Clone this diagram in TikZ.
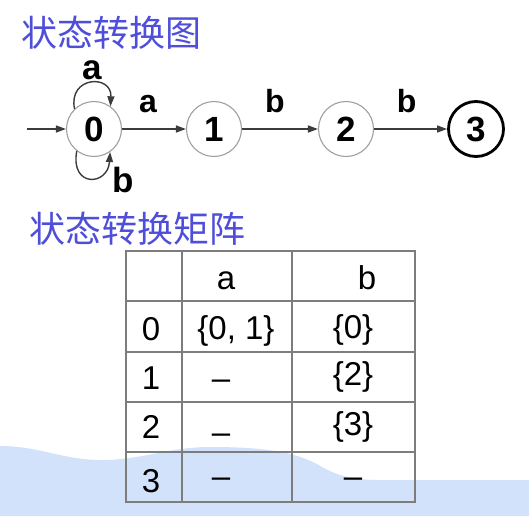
\documentclass[tikz,border=0pt]{standalone}
\usepackage{fontspec}
\setmainfont{Liberation Sans}
\newfontfamily\cjk{Noto Sans CJK SC}
\usetikzlibrary{arrows.meta}
\definecolor{titleblue}{RGB}{78,78,218}
\definecolor{wavecol}{RGB}{210,226,250}
\definecolor{circgray}{RGB}{160,160,160}
\definecolor{gridgray}{RGB}{125,125,125}
\definecolor{linegray}{RGB}{60,60,60}
\begin{document}
\begin{tikzpicture}[x=1pt,y=-1pt,
  state/.style={circle,draw=circgray,line width=1.1pt,minimum size=55pt,inner sep=0pt,font=\fontsize{35}{35}\selectfont\bfseries},
  final/.style={state,draw=black,line width=2.8pt,minimum size=55pt},
  trans/.style={draw=linegray,-{Triangle[length=10pt,width=7pt]},line width=1.4pt},
  elabel/.style={font=\fontsize{32}{32}\selectfont\bfseries,inner sep=0pt,anchor=base},
  llabel/.style={font=\fontsize{35}{35}\selectfont\bfseries,inner sep=0pt,anchor=base},
  title/.style={text=titleblue,font=\fontsize{36}{36}\selectfont\cjk,anchor=west,inner sep=0pt},
  cell/.style={font=\fontsize{33}{33}\selectfont,inner sep=0pt,anchor=base},
  grid/.style={draw=gridgray,line width=1.5pt}]
\useasboundingbox (0,0) rectangle (529,516);
\fill[white] (0,0) rectangle (529,516);
% wave background
\fill[wavecol] (0,446) .. controls (40,446) and (65,461) .. (105,460)
  .. controls (145,459) and (170,447) .. (210,447)
  .. controls (255,447) and (295,450) .. (322,467)
  .. controls (340,477) and (355,480) .. (380,480)
  -- (529,480) -- (529,516) -- (0,516) -- cycle;
% titles
\node[title] (t1) at (21,33) {状态转换图};
\node[title] (t2) at (29,229) {状态转换矩阵};
% states
\node[state] (s0) at (94,129) {0};
\node[state] (s1) at (214,129) {1};
\node[state] (s2) at (346,129) {2};
\node[final] (s3) at (476,129) {3};
\coordinate (start) at (27,129);
\draw[trans] (start) -- (s0);
\draw[trans] (s0) -- node[elabel,midway,xshift=-6pt,yshift=17pt]{a} (s1);
\draw[trans] (s1) -- node[elabel,midway,xshift=-5pt,yshift=17pt]{b} (s2);
\draw[trans] (s2) -- node[elabel,midway,xshift=-4pt,yshift=16pt]{b} (s3);
\draw[trans] (s0.134) .. controls (68,76) and (112,74) .. (s0.54);
\draw[trans] (s0.-128) .. controls (70,188) and (108,186) .. (s0.-55);
\node[llabel] (la) at (92,80) {a};
\node[llabel] (lb) at (123,192) {b};
% table
\draw[grid] (126,251) rectangle (415,502);
\foreach \x in {182,292} \draw[grid] (\x,251) -- (\x,502);
\foreach \y in {301,352,402,452} \draw[grid] (126,\y) -- (415,\y);
\node[cell] (ha) at (226,289) {a};
\node[cell] (hb) at (367,289) {b};
\node[cell] (r0) at (151,340) {0};
\node[cell] (r0a) at (236,339) {\{0, 1\}};
\node[cell] (r0b) at (353,338) {\{0\}};
\node[cell] (r1) at (151,389) {1};
\node[cell] (r1a) at (221,389) {–};
\node[cell] (r1b) at (353,385) {\{2\}};
\node[cell] (r2) at (151,438) {2};
\node[cell] (r2a) at (221,443) {–};
\node[cell] (r2b) at (353,435) {\{3\}};
\node[cell] (r3) at (151,492) {3};
\node[cell] (r3a) at (221,487) {–};
\node[cell] (r3b) at (353,487) {–};
\end{tikzpicture}
\end{document}
